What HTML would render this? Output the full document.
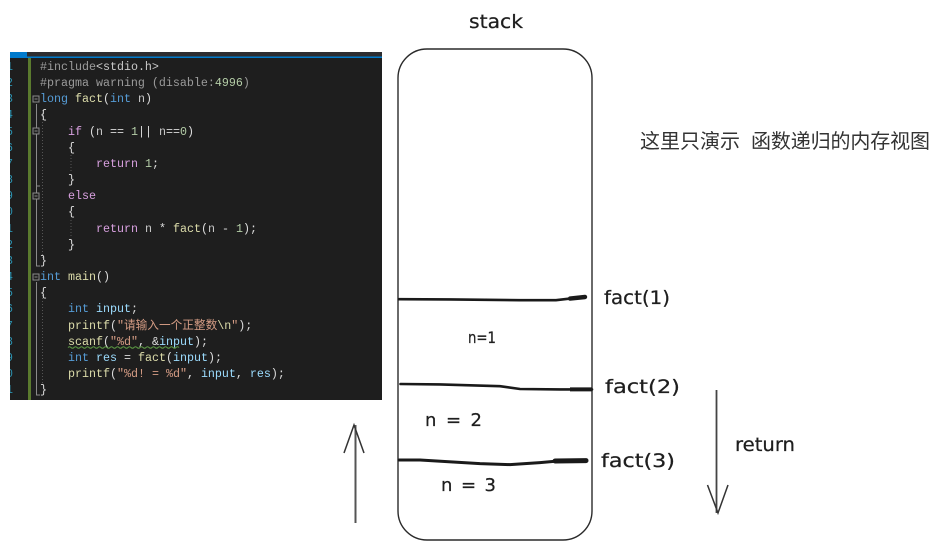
<!DOCTYPE html>
<html><head><meta charset="utf-8"><style>
html,body{margin:0;padding:0;background:#fff;width:940px;height:550px;overflow:hidden}
svg{display:block}
.c{font-family:"Liberation Mono","Noto Sans CJK SC",monospace;font-size:11.67px;fill:#dcdcdc;white-space:pre;font-weight:400;stroke:currentColor;stroke-width:0}
.k{fill:#569cd6}.f{fill:#dcdcaa}.v{fill:#9cdcfe}.n{fill:#b5cea8}.p{fill:#9b9b9b}.q{fill:#d8a0df}.s{fill:#d69d85}.t{fill:#c9c9c9}
.h{font-family:"DejaVu Sans",sans-serif;font-size:19px;fill:#1e1e1e;stroke:#1e1e1e;stroke-width:.25}
.ln{font-family:"Liberation Mono",monospace;font-size:11.67px;fill:#2b91af}
</style></head><body>
<svg width="940" height="550" viewBox="0 0 940 550" xmlns="http://www.w3.org/2000/svg">
<rect width="940" height="550" fill="#fff"/>
<rect x="10" y="52" width="372" height="348" fill="#1e1e1e"/>
<rect x="10" y="52" width="372" height="5" fill="#2d2d30"/>
<rect x="10" y="56.5" width="372" height="1.5" fill="#007acc"/>
<rect x="10" y="52" width="17" height="6" fill="#007acc"/>
<rect x="28" y="58" width="3" height="342" fill="#5a7a2e"/>
<defs><clipPath id="lc"><rect x="10" y="58" width="4" height="342"/></clipPath></defs>
<g class="ln" clip-path="url(#lc)">
<text x="6" y="70">1</text><text x="6" y="86">2</text><text x="6" y="102">3</text><text x="6" y="118">4</text><text x="6" y="135">5</text><text x="6" y="151">6</text><text x="6" y="167">7</text><text x="6" y="183">8</text><text x="6" y="199">9</text><text x="6" y="215">0</text><text x="6" y="232">1</text><text x="6" y="248">2</text><text x="6" y="264">3</text><text x="6" y="280">4</text><text x="6" y="296">5</text><text x="6" y="312">6</text><text x="6" y="329">7</text><text x="6" y="345">8</text><text x="6" y="361">9</text><text x="6" y="377">0</text><text x="6" y="393">1</text>
</g>
<g stroke="#8a8a8a" stroke-width="1" fill="none">
<path d="M36.5 104V266H40M36.5 282V395H40M36.5 186H40"/>
<rect x="33" y="96" width="6" height="6" fill="#1e1e1e"/><path d="M34.5 99H37.5"/>
<rect x="33" y="128" width="6" height="6" fill="#1e1e1e"/><path d="M34.5 131H37.5"/>
<rect x="33" y="193" width="6" height="6" fill="#1e1e1e"/><path d="M34.5 196H37.5"/>
<rect x="33" y="274" width="6" height="6" fill="#1e1e1e"/><path d="M34.5 277H37.5"/>
</g>
<g stroke="#555" stroke-width="1" stroke-dasharray="1 2" fill="none">
<path d="M42.5 110V258M71 155V172M71 220V237M42.5 295V385"/>
</g>
<g class="c">
<text x="40" y="70" class="c"><tspan class="p">#include</tspan><tspan class="t">&lt;stdio.h&gt;</tspan></text>
<text x="40" y="86" class="c"><tspan class="p">#pragma warning (disable:</tspan><tspan class="n">4996</tspan><tspan class="p">)</tspan></text>
<text x="40" y="102" class="c"><tspan class="k">long</tspan> <tspan class="f">fact</tspan>(<tspan class="k">int</tspan> <tspan class="t">n</tspan>)</text>
<text x="40" y="118" class="c">{</text>
<text x="68" y="135" class="c"><tspan class="q">if</tspan> (<tspan class="t">n</tspan> == <tspan class="n">1</tspan>|| <tspan class="t">n</tspan>==<tspan class="n">0</tspan>)</text>
<text x="68" y="151" class="c">{</text>
<text x="96" y="167" class="c"><tspan class="q">return</tspan> <tspan class="n">1</tspan>;</text>
<text x="68" y="183" class="c">}</text>
<text x="68" y="199" class="c"><tspan class="q">else</tspan></text>
<text x="68" y="215" class="c">{</text>
<text x="96" y="232" class="c"><tspan class="q">return</tspan> <tspan class="t">n</tspan> * <tspan class="f">fact</tspan>(<tspan class="t">n</tspan> - <tspan class="n">1</tspan>);</text>
<text x="68" y="248" class="c">}</text>
<text x="40" y="264" class="c">}</text>
<text x="40" y="280" class="c"><tspan class="k">int</tspan> <tspan class="f">main</tspan>()</text>
<text x="40" y="296" class="c">{</text>
<text x="68" y="312" class="c"><tspan class="k">int</tspan> <tspan class="v">input</tspan>;</text>
<text x="68" y="329" class="c"><tspan class="f">printf</tspan>(<tspan class="s">"请输入一个正整数</tspan><tspan class="f">\n</tspan><tspan class="s">"</tspan>);</text>
<text x="68" y="345" class="c"><tspan class="f">scanf</tspan>(<tspan class="s">"%d"</tspan>, &amp;<tspan class="v">input</tspan>);</text>
<text x="68" y="361" class="c"><tspan class="k">int</tspan> <tspan class="v">res</tspan> = <tspan class="f">fact</tspan>(<tspan class="v">input</tspan>);</text>
<text x="68" y="377" class="c"><tspan class="f">printf</tspan>(<tspan class="s">"%d! = %d"</tspan>, <tspan class="v">input</tspan>, <tspan class="v">res</tspan>);</text>
<text x="40" y="393" class="c">}</text>
</g>
<path d="M68 347.5q1.5 -1.5 3 0t3 0t3 0t3 0t3 0t3 0t3 0t3 0t3 0t3 0t3 0t3 0t3 0t3 0t3 0t3 0t3 0t3 0t3 0t3 0t3 0t3 0t3 0t3 0t3 0t3 0t3 0t3 0t3 0t3 0t3 0t3 0t3 0t3 0t3 0t3 0t3 0t" fill="none" stroke="#5f9e46" stroke-width="1"/>

<rect x="398" y="49" width="194" height="491" rx="29" ry="29" fill="none" stroke="#2a2a2a" stroke-width="1.4"/>

<path d="M399 299.2L450 299.4L520 300.2L556 300.2L570 298.6L585 297" stroke="#1a1a1a" stroke-width="2.6" fill="none" stroke-linecap="round"/>
<path d="M570 298.6L585 297" stroke="#1a1a1a" stroke-width="4.4" fill="none" stroke-linecap="round"/>
<path d="M400.5 384L440 384.4L500 386.2L520 389L560 389.4L592 389.4" stroke="#1a1a1a" stroke-width="2.6" fill="none" stroke-linecap="round"/>
<path d="M570 389.4L592 389.4" stroke="#1a1a1a" stroke-width="4" fill="none"/>
<path d="M399 460L420 460L480 463.6L510 464.6L540 462.6L565 460.4L586 460.6" stroke="#1a1a1a" stroke-width="3" fill="none" stroke-linecap="round"/>
<path d="M555 461L586 460.6" stroke="#1a1a1a" stroke-width="5" fill="none" stroke-linecap="round"/>

<path d="M716.5 390V513" stroke="#444" stroke-width="1.8" fill="none"/>
<path d="M707.5 485L718 513L728 485" stroke="#333" stroke-width="1.5" fill="none"/>
<path d="M355.5 425V523" stroke="#555" stroke-width="2" fill="none"/>
<path d="M344 453L354 425L364 453" stroke="#333" stroke-width="1.5" fill="none"/>

<text class="h" x="469" y="28" textLength="54" lengthAdjust="spacingAndGlyphs">stack</text>
<text class="h" x="604" y="304" textLength="66" lengthAdjust="spacingAndGlyphs">fact(1)</text>
<text class="h" x="605" y="393" textLength="75" lengthAdjust="spacingAndGlyphs">fact(2)</text>
<text class="h" x="601" y="467" textLength="74" lengthAdjust="spacingAndGlyphs">fact(3)</text>
<text class="h" x="735" y="451" textLength="60" lengthAdjust="spacingAndGlyphs">return</text>
<text class="h" x="468" y="343" textLength="28" lengthAdjust="spacingAndGlyphs" style="font-size:16px">n=1</text>
<text class="h" x="425" y="426" textLength="57" lengthAdjust="spacing" style="font-size:18px">n = 2</text>
<text class="h" x="441" y="491" textLength="55" lengthAdjust="spacing" style="font-size:18px">n = 3</text>

<text x="640" y="148" style="font-family:'Liberation Sans','Noto Sans CJK SC',sans-serif;font-size:20px;fill:#333">这里只演示</text>
<text x="751" y="148" style="font-family:'Liberation Sans','Noto Sans CJK SC',sans-serif;font-size:20px;fill:#333" textLength="179">函数递归的内存视图</text>
</svg>
</body></html>
